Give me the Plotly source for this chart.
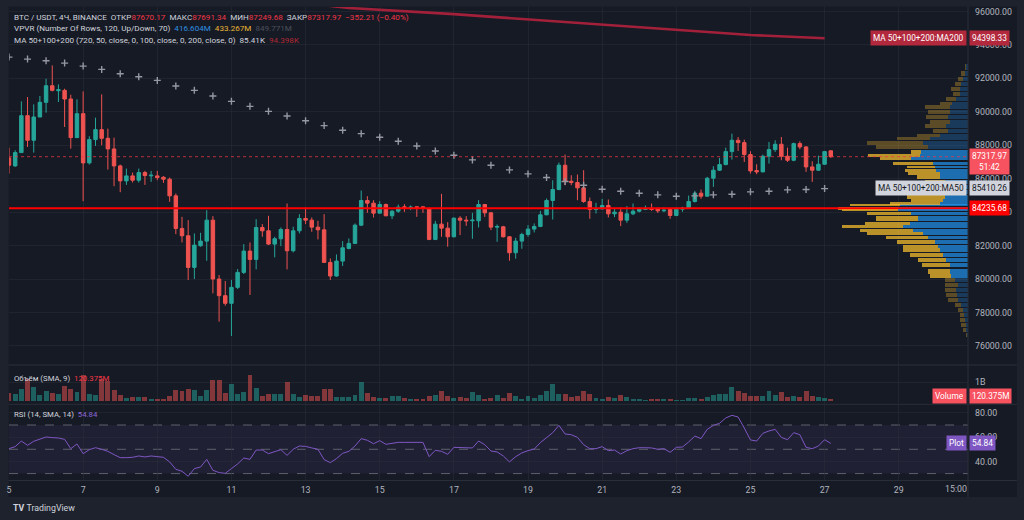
import numpy as np
import pandas as pd
import plotly.graph_objects as go

# BTC/USDT 4h candles, from 5 Mar 00:00 to 27 Mar 04:00
opens = [87244, 86767, 87563, 89772, 88299, 89692, 90568, 91563, 91264, 91284,
         90767, 88458, 89891, 86946, 88339, 88936, 88418, 87782, 86767, 85871,
         86170, 85911, 86369, 86170, 86170, 86090, 85971, 84976, 83026, 82588,
         80697, 81991, 82269, 83523, 80001, 79006, 78548, 79503, 80399, 81672,
         81175, 83085, 82886, 82090, 82409, 82966, 81692, 82886, 83623, 83523,
         83105, 82946, 80996, 80180, 81075, 81831, 82130, 83224, 84697, 84538,
         83941, 84458, 83782, 84060, 84319, 84259, 84319, 84319, 84200, 82369,
         83284, 83045, 82528, 83642, 83523, 83483, 83483, 84458, 83961, 83105,
         83125, 82528, 81573, 82269, 82667, 82986, 83145, 83841, 84697, 85354,
         86807, 85851, 85772, 85453, 84637, 84160, 84200, 84399, 83901, 84001,
         83523, 83901, 84060, 84160, 84220, 84200, 84080, 84160, 83802, 84180,
         84239, 84637, 85135, 84956, 86030, 86508, 86846, 87622, 88299, 88160,
         87443, 86488, 86409, 87344, 87742, 88060, 87344, 87105, 88100, 87901,
         86707, 86508, 86866, 87670.17]
highs = [87861, 87702, 90627, 90886, 90448, 90946, 91981, 92777, 91642, 91384,
         91025, 90747, 91224, 88538, 89652, 91045, 88995, 88458, 86846, 86607,
         86369, 86607, 86468, 86468, 86468, 86150, 86070, 85115, 83722, 83523,
         82727, 82767, 84120, 83762, 80240, 79881, 79941, 80598, 82090, 82190,
         83583, 83284, 83782, 82528, 83085, 84518, 83125, 83881, 84279, 83682,
         83483, 83881, 81234, 81473, 82269, 82428, 83324, 85294, 84956, 84717,
         84657, 84518, 84120, 84458, 84478, 84399, 84359, 84359, 84279, 83483,
         85095, 83404, 83682, 83762, 83762, 83961, 84717, 84478, 84020, 83264,
         83185, 82568, 82468, 82767, 83224, 83324, 84080, 84817, 85911, 86966,
         87443, 86210, 86249, 86508, 84876, 84558, 84797, 84757, 84239, 84279,
         84359, 84518, 84279, 84399, 84518, 84279, 84279, 84220, 84279, 84319,
         84996, 85274, 85354, 86110, 86747, 87244, 87861, 88697, 88498, 88339,
         87642, 86866, 87443, 88200, 88299, 88498, 87861, 88160, 88239, 87941,
         87045, 87384, 87662, 87691.34]
lows = [86309, 86707, 87563, 87901, 87563, 89692, 89951, 91224, 90588, 89095,
        87802, 88458, 84657, 86846, 87961, 88000, 86548, 85553, 85195, 85632,
        85772, 85772, 85632, 85811, 85911, 85752, 84617, 82687, 82190, 79941,
        80001, 81931, 81095, 79145, 77454, 78409, 76598, 79404, 80299, 79046,
        80578, 82528, 82031, 81294, 81971, 80578, 81593, 82727, 83284, 82826,
        82369, 80976, 79941, 80140, 80777, 81772, 82130, 83165, 83961, 83682,
        83941, 83762, 83583, 83961, 84020, 84120, 83722, 83961, 82329, 82329,
        82528, 81931, 82488, 82628, 83185, 82409, 83085, 83722, 82926, 82230,
        82488, 81095, 81215, 81812, 82528, 82787, 83105, 83822, 83563, 85314,
        85613, 85612, 84717, 84558, 83603, 83921, 84160, 83682, 83702, 83165,
        83364, 83822, 83981, 84120, 84080, 83961, 84001, 83603, 83762, 84020,
        84200, 84578, 84797, 84936, 85513, 86468, 86807, 87145, 87662, 87006,
        86309, 86269, 86389, 86906, 87603, 87105, 87006, 87045, 87762, 86409,
        85812, 86468, 86826, 87249.68]
closes = [86806, 87563, 89772, 88299, 89692, 90568, 91563, 91284, 91324, 90767,
          88458, 89891, 86946, 88339, 88936, 88418, 87782, 86767, 85871, 86170,
          85911, 86369, 86190, 86210, 86070, 85971, 84976, 83026, 82588, 80697,
          82031, 82269, 83523, 80001, 79006, 78548, 79503, 80399, 81672, 81175,
          83085, 82886, 82090, 82409, 82966, 81692, 82886, 83623, 83523, 83105,
          82946, 80996, 80180, 81075, 81871, 82130, 83224, 84697, 84538, 83941,
          84458, 83782, 84060, 84299, 84239, 84299, 84259, 84239, 82369, 83284,
          83045, 82528, 83642, 83523, 83483, 83523, 84458, 83961, 83105, 83145,
          82528, 81573, 82269, 82667, 82986, 83145, 83841, 84697, 85354, 86807,
          85851, 85772, 85453, 84637, 84160, 84200, 84399, 83901, 84001, 83523,
          83901, 84060, 84220, 84220, 84160, 84080, 84120, 83802, 84180, 84239,
          84637, 85135, 84956, 86030, 86508, 86846, 87622, 88299, 88160, 87443,
          86468, 86409, 87344, 87742, 88060, 87344, 87105, 88100, 87901, 86707,
          86508, 86866, 87622, 87317.97]

# volume per candle, millions
volumes = [432, 380, 622, 1140, 725, 311, 518, 449, 380, 794,
           656, 484, 1382, 380, 311, 1174, 1036, 604, 311, 190,
           225, 225, 225, 138, 138, 138, 276, 604, 553, 622,
           570, 276, 570, 1088, 1088, 449, 881, 397, 484, 1382,
           708, 276, 397, 380, 380, 1002, 363, 242, 311, 294,
           294, 656, 622, 242, 242, 207, 311, 984, 414, 207,
           173, 173, 259, 276, 173, 104, 138, 104, 259, 311,
           518, 259, 190, 242, 173, 484, 345, 138, 190, 311,
           190, 449, 259, 138, 259, 190, 311, 518, 881, 380,
           397, 242, 276, 535, 397, 173, 138, 207, 173, 311,
           225, 104, 104, 86, 104, 104, 104, 104, 86, 86,
           173, 173, 138, 207, 328, 380, 363, 760, 535, 432,
           294, 294, 259, 518, 328, 484, 225, 276, 242, 535,
           276, 207, 190, 120.375]

rsi = [50.5, 52.2, 56.8, 53.3, 56.6, 58.2, 60.1, 59.6, 59.3, 58.2,
       50.5, 54.4, 46.4, 49.7, 51.3, 50.0, 48.3, 45.6, 43.1, 43.1,
       43.4, 44.5, 43.7, 44.5, 43.9, 43.4, 39.6, 33.5, 31.9, 27.8,
       34.1, 35.4, 41.7, 32.7, 30.8, 30.2, 34.1, 37.9, 42.8, 41.7,
       49.4, 49.4, 46.4, 47.8, 49.7, 45.0, 50.0, 52.7, 52.4, 51.1,
       50.0, 41.5, 39.0, 42.3, 46.7, 48.3, 52.7, 58.8, 57.4, 54.6,
       57.1, 54.1, 55.2, 55.7, 55.7, 55.7, 55.7, 55.7, 43.9, 49.2,
       48.3, 45.9, 51.6, 51.3, 51.1, 51.1, 56.8, 53.8, 48.6, 47.8,
       44.5, 39.6, 43.9, 47.0, 48.9, 50.2, 55.5, 59.8, 63.7, 69.7,
       62.6, 62.0, 59.8, 53.8, 50.5, 50.5, 52.2, 48.9, 49.4, 46.1,
       48.9, 50.5, 51.3, 51.3, 51.1, 50.0, 50.5, 47.5, 51.6, 51.9,
       56.0, 60.9, 58.8, 66.4, 69.7, 71.4, 75.8, 78.0, 76.6, 67.5,
       57.7, 56.8, 63.1, 65.1, 66.4, 59.8, 57.9, 63.7, 62.0, 51.6,
       50.5, 52.7, 57.9, 54.84]

# 12h MA50 (one value every 3rd candle)
ma50_12h = [93274, 93155, 93055, 92916, 92737, 92538, 92279, 92100, 91881, 91543,
            91284, 90946, 90627, 90329, 90030, 89752, 89463, 89177, 88896, 88697,
            88478, 88239, 87961, 87662, 87403, 87125, 86807, 86528, 86289, 86070,
            85830, 85613, 85374, 85254, 85135, 85035, 84956, 84976, 85035, 85075,
            85214, 85254, 85334, 85354, 85410.26]
# 12h MA200, read at a few candles
ma200_idx = [48, 55, 72, 84, 96, 108, 120, 132]
ma200_vals = [96500, 96210, 95845, 95528, 95206, 94890, 94591, 94398.33]

# visible range volume profile: row price, up part, down part (bar length)
vp_price = [92677, 92279, 91980, 91682, 91384, 91085, 90787, 90488, 90289, 89990,
            89692, 89394, 89135, 88856, 88598, 88399, 88140, 87901, 87603, 87404,
            87205, 86906, 86707, 86508, 86309, 86110, 85811, 85513, 85215, 84916,
            84717, 84518, 84419, 84220, 84120, 83921, 83623, 83324, 83165, 82926,
            82727, 82488, 82229, 81931, 81732, 81434, 81135, 80837, 80439, 80180,
            79941, 79643, 79344, 79046, 78747, 78449, 78150, 77852, 77553, 77255,
            76956, 76657]
vp_up = [1.7, 3.3, 5, 6.7, 8.3, 7.7, 11.7, 15.7, 18.3, 18.3,
         20, 18.3, 21.7, 20, 28.3, 38.3, 45, 40, 46.7, 48.3,
         56.7, 35, 33.3, 31.7, 28.3, 28.3, 23.3, 25, 21.7, 23.3,
         25, 28.3, 68.3, 70, 70, 56.7, 50, 58.3, 65, 55,
         45, 40, 33.3, 30, 28.3, 25, 21.7, 18.3, 18.3, 16.7,
         13.3, 10, 11.7, 11, 10, 6.7, 5, 4.3, 3.3, 2.3,
         1.7, 0.7]
vp_down = [1.7, 3.3, 5, 6.7, 8.3, 7.3, 10, 12.7, 25, 21.7,
           21.7, 20, 21.7, 15, 23.3, 33.3, 56.7, 51.7, 10, 51.7,
           31.7, 40, 28.3, 31.7, 31.7, 23.3, 20, 20, 18.3, 38.3,
           31.7, 50, 50, 60, 56.7, 45, 41.7, 45, 61.7, 53.3,
           56.7, 41.7, 38.3, 35, 36.7, 33.3, 28.3, 28.3, 21.7, 21.7,
           10, 13.3, 11.7, 10.7, 10, 6.7, 5, 4, 5, 4.3,
           3.3, 1]
va_low, va_high = 80100, 87700
level_line = 84235.68

day_ticks = [5, 7, 9, 11, 13, 15, 17, 19, 21, 23, 25, 27, 29]
price_ticks = [76000, 78000, 80000, 82000, 84000, 86000, 88000, 90000, 92000, 94000, 96000]

BG = '#161A25'
GRID = 'rgba(42,46,57,0.55)'
TXT = '#B2B5BE'
UP = '#26A69A'
DOWN = '#EF5350'
FONT = 'Roboto, Liberation Sans, sans-serif'

times = pd.date_range('2025-03-05 00:00', periods=len(opens), freq='4h')
up_bar = [c >= o for o, c in zip(opens, closes)]

# plot area in page pixels
PL, PR, PT, PB = 7, 968, 7, 480
W, H = PR - PL, PB - PT


def fx(px):
    return (px - PL) / W


def fy(py):
    return (PB - py) / H


fig = go.Figure()

fig.add_trace(go.Candlestick(
    x=times, open=opens, high=highs, low=lows, close=closes,
    increasing=dict(line=dict(color=UP, width=1), fillcolor=UP),
    decreasing=dict(line=dict(color=DOWN, width=1), fillcolor=DOWN),
    whiskerwidth=0, showlegend=False, xaxis='x', yaxis='y'))

fig.add_trace(go.Scatter(
    x=times[::3], y=ma50_12h, mode='markers', xaxis='x', yaxis='y',
    marker=dict(symbol='cross-thin', size=5, line=dict(color='#9598A1', width=1.4)),
    showlegend=False))

fig.add_trace(go.Scatter(
    x=times[ma200_idx], y=ma200_vals, mode='lines', xaxis='x', yaxis='y',
    line=dict(color='#A3203A', width=2.6), showlegend=False))

# volume profile (drawn from the right edge)
vp_width = np.abs(np.gradient(np.array(vp_price, dtype=float))) * 0.82
in_va = [va_low <= p <= va_high for p in vp_price]
fig.add_trace(go.Bar(
    y=vp_price, x=vp_up, orientation='h', width=vp_width, xaxis='x2', yaxis='y',
    marker=dict(color=['rgba(33,150,243,0.68)' if v else 'rgba(33,150,243,0.26)' for v in in_va],
                line=dict(width=0)),
    showlegend=False))
fig.add_trace(go.Bar(
    y=vp_price, x=vp_down, orientation='h', width=vp_width, xaxis='x2', yaxis='y',
    marker=dict(color=['rgba(251,192,45,0.72)' if v else 'rgba(251,192,45,0.3)' for v in in_va],
                line=dict(width=0)),
    showlegend=False))

fig.add_trace(go.Bar(
    x=times, y=volumes, xaxis='x', yaxis='y2', width=4 * 3600 * 1000 * 0.8,
    marker=dict(color=['rgba(38,166,154,0.5)' if u else 'rgba(239,83,80,0.5)' for u in up_bar],
                line=dict(width=0)),
    showlegend=False))

fig.add_trace(go.Scatter(
    x=times, y=rsi, mode='lines', xaxis='x', yaxis='y3',
    line=dict(color='#7E57C2', width=1), showlegend=False))

shapes = [
    dict(type='rect', xref='paper', yref='paper', x0=fx(6.5), x1=fx(1017), y0=fy(497), y1=fy(6.5),
         fillcolor=BG, line=dict(width=0), layer='below'),
    dict(type='rect', xref='paper', yref='y3', x0=0, x1=1, y0=30, y1=70,
         fillcolor='rgba(126,87,194,0.1)', line=dict(width=0), layer='below'),
]
for lvl in [70, 50, 30]:
    shapes.append(dict(type='line', xref='paper', yref='y3', x0=0, x1=1, y0=lvl, y1=lvl,
                       line=dict(color='#5D606B', width=1, dash='dash'), layer='below'))
for py in [365, 404.3, 480.5]:
    shapes.append(dict(type='line', xref='paper', yref='paper', x0=fx(6.5), x1=fx(1017),
                       y0=fy(py), y1=fy(py), line=dict(color='#2A2E39', width=1), layer='above'))
shapes.append(dict(type='line', xref='paper', yref='paper', x0=fx(968), x1=fx(968),
                   y0=fy(497), y1=fy(6.5), line=dict(color='#2A2E39', width=1), layer='above'))
shapes.append(dict(type='line', xref='paper', yref='y', x0=0, x1=1, y0=closes[-1], y1=closes[-1],
                   line=dict(color='rgba(242,54,69,0.75)', width=1, dash='dot'), layer='above'))
shapes.append(dict(type='line', xref='paper', yref='y', x0=0, x1=1, y0=level_line, y1=level_line,
                   line=dict(color='#FF0000', width=2), layer='above'))

annotations = []


def text_at(px, py, text, size=8.1, color='#D1D4DC', anchor='left'):
    annotations.append(dict(x=fx(px), y=fy(py), xref='paper', yref='paper', text=text,
                            showarrow=False, xanchor=anchor, yanchor='middle',
                            font=dict(family=FONT, size=size, color=color)))


def tag(px, py, text, bg, fg='#FFFFFF', anchor='left', size=8.3):
    annotations.append(dict(x=fx(px), y=fy(py), xref='paper', yref='paper', text=text,
                            showarrow=False, xanchor=anchor, yanchor='middle', bgcolor=bg,
                            borderpad=2, font=dict(family=FONT, size=size, color=fg)))


def col(t, c):
    return f'<span style="color:{c}">{t}</span>'


sp = '\u00a0'
red_v = '#F23645'
text_at(10, 17, f'BTC / USDT, 4Ч, BINANCE{sp}{sp}ОТКР' + col('87670.17', red_v) + f'{sp}{sp}МАКС'
        + col('87691.34', red_v) + f'{sp}{sp}МИН' + col('87249.68', red_v) + f'{sp}{sp}ЗАКР'
        + col('87317.97', red_v) + sp + sp + col('−352.21 (−0.40%)', red_v))
text_at(10, 28.5, f'VPVR (Number Of Rows, 120, Up/Down, 70){sp}{sp}' + col('416.604M', '#2E8FE0') + sp + sp
        + col('433.267M', '#E9B634') + sp + sp + col('849.771M', '#4C505B'))
text_at(10, 40, f'MA 50+100+200 (720, 50, close, 0, 100, close, 0, 200, close, 0){sp}{sp}85.41K{sp}{sp}'
        + col('94.398K', '#B22833'))
text_at(10, 378, f'Объём (SMA, 9){sp}{sp}' + col('120.375M', red_v), size=7.8)
text_at(10, 414, f'RSI (14, SMA, 14){sp}{sp}' + col('54.84', '#8D68D6'), size=7.8)
text_at(955.7, 489, '15:00', size=8.8, color=TXT, anchor='center')
text_at(9, 508.5, '<b>TV</b>' + sp + 'TradingView', size=8.8, color='#D1D4DC')

tag(967, 38, 'MA 50+100+200:MA200', '#B2283D', anchor='right')
tag(969, 38, '94398.33', '#B2283D')
tag(969, 161, '87317.97<br>51:42', '#F7525F')
tag(967, 188, 'MA 50+100+200:MA50', '#D1D4DC', fg='#131722', anchor='right')
tag(969, 188, '85410.26', '#D1D4DC', fg='#131722')
tag(969, 208, '84235.68', '#FF0000')
tag(967, 396, 'Volume', '#F7525F', anchor='right')
tag(969, 396, '120.375M', '#F7525F')
tag(967, 443, 'Plot', '#7E57C2', anchor='right')
tag(969, 443, '54.84', '#7E57C2')

axis_font = dict(family=FONT, size=8.8, color=TXT)
fig.update_layout(
    width=1024, height=520,
    margin=dict(l=PL, r=1024 - PR, t=PT, b=520 - PB),
    paper_bgcolor='#1E222D', plot_bgcolor=BG,
    hovermode=False, showlegend=False, barmode='stack', boxgap=0.2,
    font=dict(family=FONT, color=TXT),
    xaxis=dict(type='date', anchor='y3', domain=[0, 1],
               range=['2025-03-05 00:00', '2025-03-30 20:50'],
               tickvals=[pd.Timestamp(2025, 3, d) for d in day_ticks],
               ticktext=[str(d) for d in day_ticks],
               tickfont=axis_font, ticks='', ticklabelstandoff=3,
               showgrid=True, gridcolor=GRID, gridwidth=1, zeroline=False, showline=False,
               rangeslider=dict(visible=False)),
    xaxis2=dict(overlaying='x', anchor='y', range=[W, 0], visible=False, showgrid=False),
    yaxis=dict(domain=[fy(364.5), 1], anchor='x', side='right', range=[74890, 96270],
               tickvals=price_ticks, ticktext=[f'{v:.2f}' for v in price_ticks],
               tickfont=axis_font, ticks='', ticklabelstandoff=6,
               showgrid=True, gridcolor=GRID, zeroline=False, showline=False),
    yaxis2=dict(domain=[fy(404), fy(365.5)], anchor='x', side='right', range=[-140, 1855],
                tickvals=[1000], ticktext=['1B'], tickfont=axis_font, ticks='', ticklabelstandoff=6,
                showgrid=True, gridcolor=GRID, zeroline=False, showline=False),
    yaxis3=dict(domain=[0, fy(404.5)], anchor='x', side='right', range=[24.7, 86.9],
                tickvals=[40, 60, 80], ticktext=['40.00', '60.00', '80.00'],
                tickfont=axis_font, ticks='', ticklabelstandoff=6,
                showgrid=True, gridcolor=GRID, zeroline=False, showline=False),
    shapes=shapes, annotations=annotations,
)

# the page body has a default 8px margin; remove it so the figure fills the window
fig.write_html('out.html', config={'displayModeBar': False},
               post_script="document.body.style.margin='0';document.body.style.background='#1E222D';")
